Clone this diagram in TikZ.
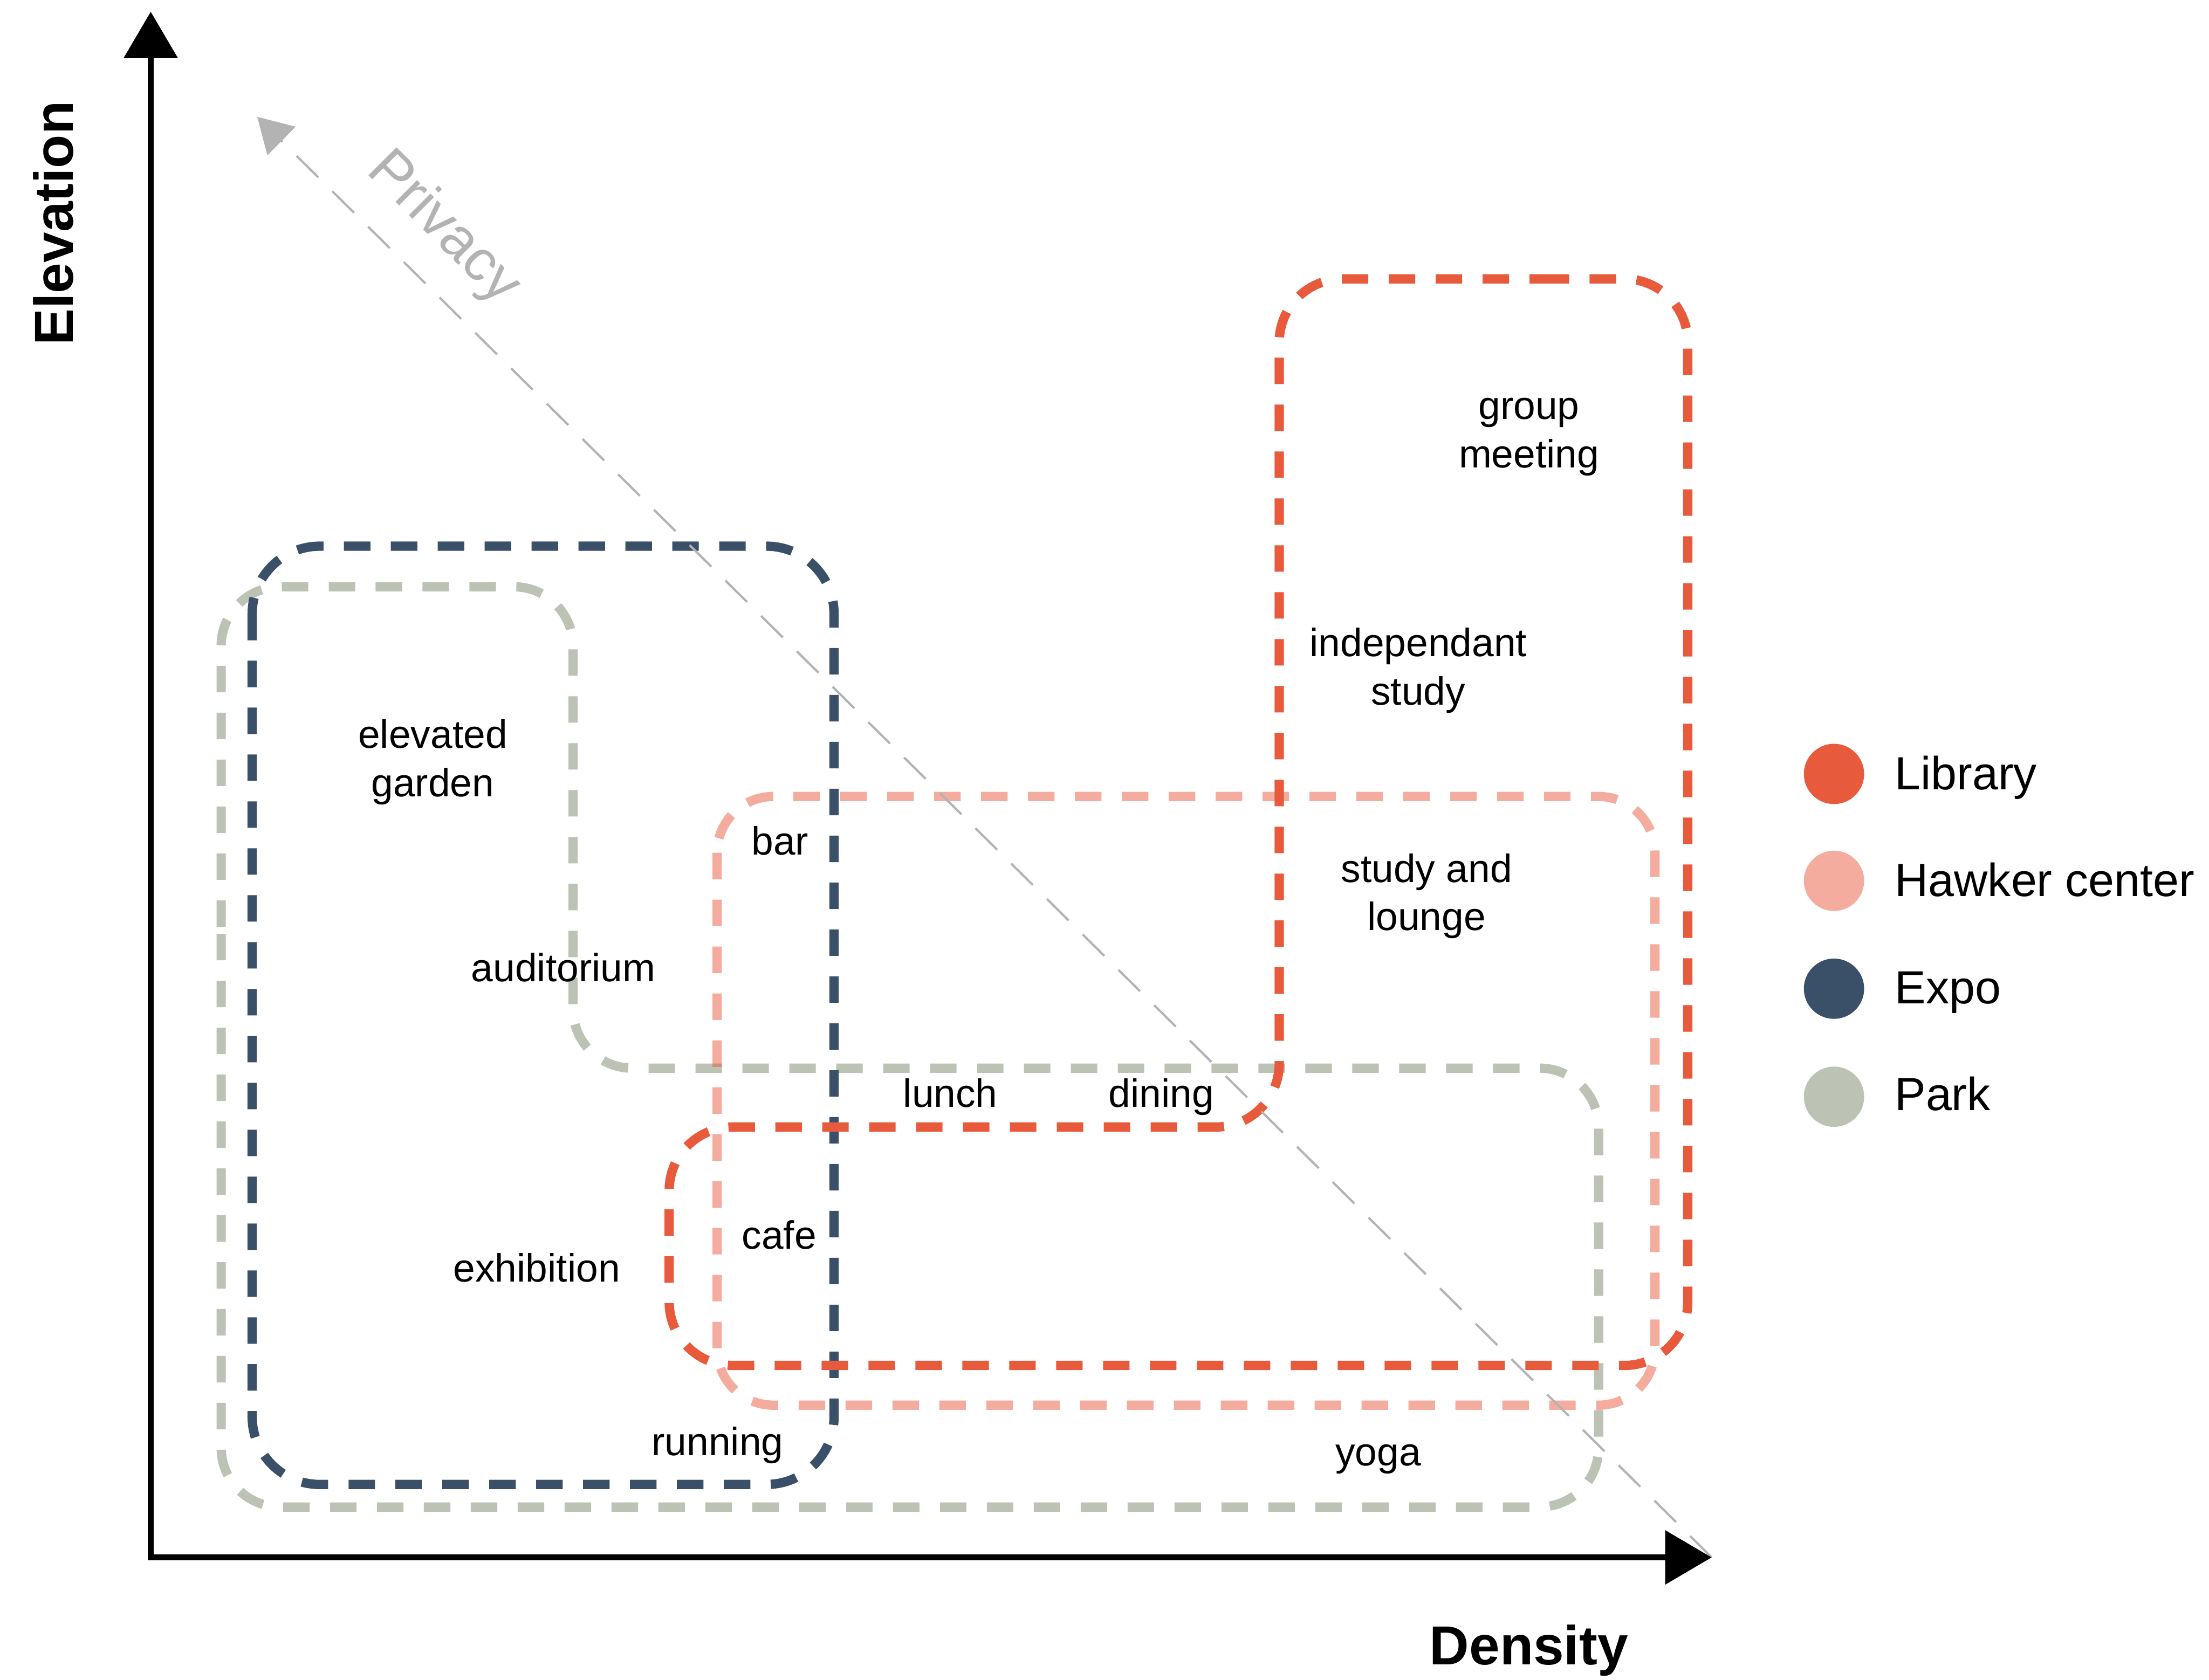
\documentclass[tikz,border=0pt]{standalone}
\usepackage{fontspec}
\setmainfont{Liberation Sans}
\usetikzlibrary{arrows.meta}
\definecolor{libred}{HTML}{E85A3C}
\definecolor{expoblue}{HTML}{3A5068}
\definecolor{parkgreen}{HTML}{BCC2B4}
\definecolor{privgrey}{HTML}{B3B3B3}
\begin{document}
\begin{tikzpicture}[x=1pt,y=-1pt,
  zone/.style={line width=6.6pt, dash pattern=on 18.8pt off 14.5pt},
  lbl/.style={anchor=base, inner sep=0pt, align=center, font=\fontsize{28}{34.2}\selectfont},
  leg/.style={anchor=base west, inner sep=0pt, font=\fontsize{33}{40}\selectfont},
  legdot/.style={circle, draw=none, inner sep=0pt, minimum size=42.8pt},
  axislbl/.style={anchor=base, inner sep=0pt, font=\fontsize{39}{47}\selectfont\bfseries},
  axisline/.style={line width=4.4pt, {Triangle[length=33pt,width=37.5pt]}-{Triangle[length=33pt,width=37.5pt]}},
  privline/.style={privgrey, line width=1.6pt, dash pattern=on 21.6pt off 14.1pt, -{Triangle[length=24.3pt,width=28.2pt]}},
]
\useasboundingbox (0,0) rectangle (1568,1192.6);

% Park
\draw[zone, parkgreen, rounded corners=42pt]
  (157,700) -- (157,416.6) -- (406.7,416.6) -- (406.7,758.4) -- (1134.7,758.4)
  -- (1134.7,1070) -- (157,1070) -- cycle;
% Expo
\draw[zone, expoblue, rounded corners=48pt] (179,387.8) rectangle (592,1054);
% Library
\draw[zone, libred, rounded corners=45pt]
  (1050,198) -- (1198,198) -- (1198,969.5) -- (475,969.5) -- (475,800.2)
  -- (908,800.2) -- (908,198) -- cycle;
% Hawker center
\draw[zone, libred, draw opacity=0.5, rounded corners=40pt] (509,565.5) rectangle (1174.7,997.7);

% Privacy arrow
\coordinate (privLow) at (1215,1105.8);
\coordinate (privTip) at (182.6,83);
\draw[privline] (privLow) -- (privTip);
\node[anchor=base west, inner sep=0pt, rotate=-45, text=privgrey, font=\fontsize{41}{48}\selectfont] (privacy) at (259.4,122) {Privacy};

% Axes
\coordinate (origin) at (107,1105.8);
\coordinate (ytip) at (107,8.3);
\coordinate (xtip) at (1215,1105.8);
\draw[axisline] (ytip) -- (origin) -- (xtip);
\node[axislbl] (density) at (1085.2,1181.8) {Density};
\node[axislbl, rotate=90] (elevation) at (51.8,158.5) {Elevation};

% Labels (multi-line nodes: anchor is the baseline of the last line)
\node[lbl] (groupmeeting) at (1085.3,332) {group\\meeting};
\node[lbl] (indstudy) at (1006.7,500.4) {independant\\study};
\node[lbl] (studylounge) at (1012.6,660.5) {study and\\lounge};
\node[lbl] (elevgarden) at (307.2,565.5) {elevated\\garden};
\node[lbl] (auditorium) at (399.9,696.8) {auditorium};
\node[lbl] (bar) at (553.7,606.9) {bar};
\node[lbl] (lunch) at (674.6,786.2) {lunch};
\node[lbl] (dining) at (824.3,786.2) {dining};
\node[lbl] (cafe) at (553,886.7) {cafe};
\node[lbl] (exhibition) at (381,910.3) {exhibition};
\node[lbl] (running) at (509.3,1033.4) {running};
\node[lbl] (yoga) at (978.3,1040.6) {yoga};

% Legend
\node[legdot, fill=libred] (dotLib) at (1301.8,549.5) {};
\node[legdot, fill=libred!50] (dotHaw) at (1301.8,625.4) {};
\node[legdot, fill=expoblue] (dotExpo) at (1301.8,702) {};
\node[legdot, fill=parkgreen] (dotPark) at (1301.8,778.7) {};
\node[leg] (txtLib) at (1344.8,560.8) {Library};
\node[leg] (txtHaw) at (1344.8,636.4) {Hawker center};
\node[leg] (txtExpo) at (1344.8,712.7) {Expo};
\node[leg] (txtPark) at (1344.8,788.4) {Park};
\end{tikzpicture}
\end{document}
